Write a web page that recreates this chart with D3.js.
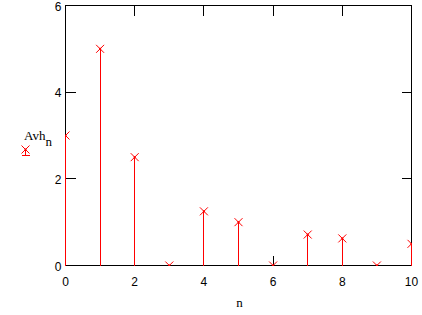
<!DOCTYPE html>
<html>
<head>
<meta charset="utf-8">
<script src="https://cdn.jsdelivr.net/npm/d3@7"></script>
<style>
  body { margin: 0; background: #fff; }
  svg { display: block; }
</style>
</head>
<body>
<div id="chart"></div>
<script>
// data
var nVals = [0, 1, 2, 3, 4, 5, 6, 7, 8, 9, 10];
var avh = [3, 5, 2.5, 0, 1.25, 1, 0, 0.714, 0.625, 0, 0.5];
var xTicks = [0, 2, 4, 6, 8, 10];
var yTicks = [0, 2, 4, 6];

var width = 422, height = 315;
var plotLeft = 65.5, plotRight = 411.5, plotTop = 5.5, plotBottom = 265.5;

var svg = d3.select("#chart").append("svg")
    .attr("width", width)
    .attr("height", height)
    .style("background", "white");

var x = d3.scaleLinear().domain([0, 10]).range([plotLeft, plotRight]);
var y = d3.scaleLinear().domain([0, 6]).range([plotBottom, plotTop]);
var fmt = d3.format("d");

//frame
svg.append("rect")
    .attr("x", plotLeft).attr("y", plotTop)
    .attr("width", plotRight - plotLeft).attr("height", plotBottom - plotTop)
    .attr("fill", "none")
    .attr("stroke", "black")
    .attr("shape-rendering", "crispEdges");

// axes, ticks pointing inward
var gx = svg.append("g")
    .attr("transform", "translate(0," + plotBottom + ")")
    .call(d3.axisBottom(x).tickValues(xTicks).tickFormat(fmt).tickSize(-10).tickSizeOuter(0).tickPadding(12).offset(0));
var gxTop = svg.append("g")
    .attr("transform", "translate(0," + plotTop + ")")
    .call(d3.axisTop(x).tickValues(xTicks).tickSize(-10).tickSizeOuter(0).tickFormat("").offset(0));
var gy = svg.append("g")
    .attr("transform", "translate(" + plotLeft + ",0)")
    .call(d3.axisLeft(y).tickValues(yTicks).tickFormat(fmt).tickSize(-10).tickSizeOuter(0).tickPadding(4).offset(0));
var gyRight = svg.append("g")
    .attr("transform", "translate(" + plotRight + ",0)")
    .call(d3.axisRight(y).tickValues(yTicks).tickSize(-10).tickSizeOuter(0).tickFormat("").offset(0));

svg.selectAll(".domain").remove();
svg.selectAll(".tick line")
    .attr("stroke", "black")
    .attr("shape-rendering", "crispEdges");
svg.selectAll(".tick text")
    .attr("fill", "black")
    .style("font-family", "'Liberation Sans', Arial, sans-serif")
    .style("font-size", "12px");
gy.selectAll(".tick text").attr("dy", "0.42em");

// clip for stems and markers
svg.append("clipPath").attr("id", "plotClip")
    .append("rect")
    .attr("x", plotLeft - 0.5).attr("y", plotTop - 0.5)
    .attr("width", plotRight - plotLeft + 1).attr("height", plotBottom - plotTop + 1);

var plot = svg.append("g").attr("clip-path", "url(#plotClip)");

// stems
plot.selectAll("line.stem")
    .data(nVals)
    .enter().append("line")
    .attr("class", "stem")
    .attr("x1", function (d) { return x(d); })
    .attr("x2", function (d) { return x(d); })
    .attr("y1", y(0))
    .attr("y2", function (d, i) { return y(avh[i]); })
    .attr("stroke", "red")
    .attr("shape-rendering", "crispEdges");

// x markers
function cross(g, cx, cy) {
    var s = 4;
    g.append("line")
        .attr("x1", cx - s).attr("y1", cy - s)
        .attr("x2", cx + s).attr("y2", cy + s)
        .attr("stroke", "red");
    g.append("line")
        .attr("x1", cx - s).attr("y1", cy + s)
        .attr("x2", cx + s).attr("y2", cy - s)
        .attr("stroke", "red");
    g.append("rect")
        .attr("x", cx - 1).attr("y", cy - 1)
        .attr("width", 2).attr("height", 2)
        .attr("fill", "red");
}

nVals.forEach(function (d, i) {
    cross(plot, x(d), y(avh[i]));
});

// axis titles
svg.append("text")
    .attr("x", (plotLeft + plotRight) / 2 + 1)
    .attr("y", 307)
    .attr("text-anchor", "middle")
    .style("font-family", "'Liberation Serif', 'Times New Roman', serif")
    .style("font-size", "13px")
    .text("n");

var yl = svg.append("text")
    .attr("x", 24)
    .attr("y", 140)
    .style("font-family", "'Liberation Serif', 'Times New Roman', serif")
    .style("font-size", "13px");
yl.append("tspan").text("Avh");
yl.append("tspan").attr("dy", 6).text("n");

// legend symbol
var leg = svg.append("g");
cross(leg, 25.5, 149.5);
leg.append("line")
    .attr("x1", 25.5).attr("x2", 25.5)
    .attr("y1", 149.5).attr("y2", 155.5)
    .attr("stroke", "red")
    .attr("shape-rendering", "crispEdges");
leg.append("line")
    .attr("x1", 21.5).attr("x2", 29.5)
    .attr("y1", 155.5).attr("y2", 155.5)
    .attr("stroke", "red")
    .attr("shape-rendering", "crispEdges");
</script>
</body>
</html>
